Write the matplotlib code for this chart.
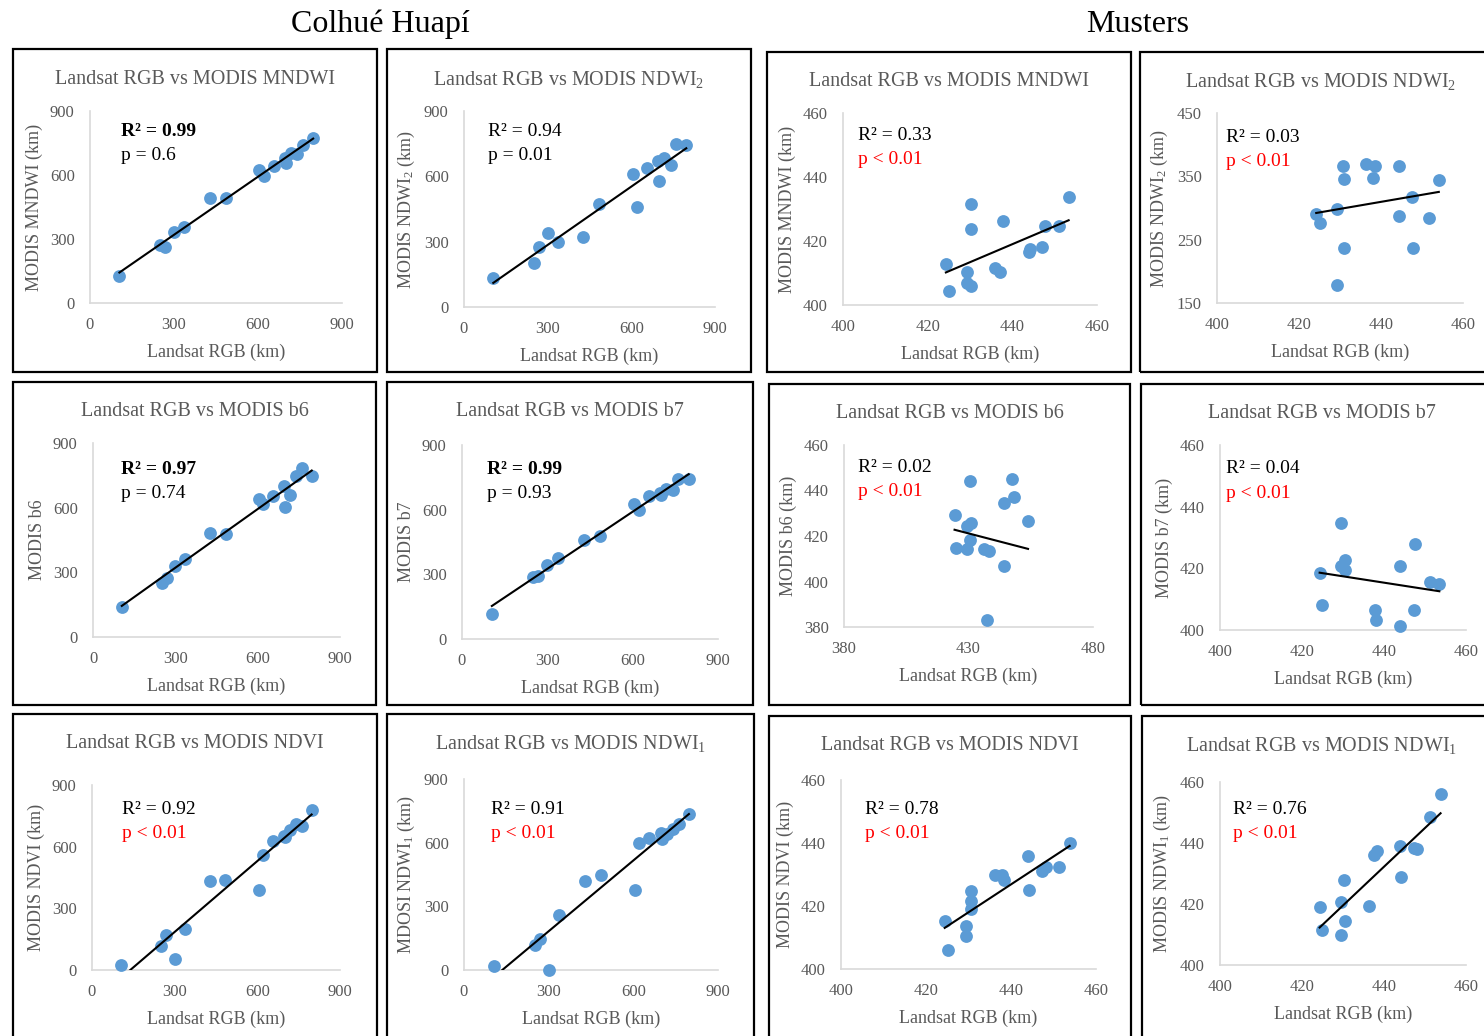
import numpy as np
import matplotlib.pyplot as plt
from matplotlib.patches import Rectangle

plt.rcParams['font.family'] = ['Liberation Serif', 'DejaVu Serif']
plt.rcParams['mathtext.default'] = 'regular'

W, H = 1484, 1036
GREY = '#595959'
BLUE = '#5B9BD5'

# ---- Colhué Huapí (same Landsat values for every panel) ----
colhue_rgb = [105, 250, 268, 300, 336, 428, 484, 605, 621, 656, 697, 700, 718, 741, 761, 797]
colhue_mndwi = [125, 271, 263, 333, 357, 490, 490, 623, 595, 642, 681, 657, 704, 700, 740, 772]
colhue_ndwi2 = [135, 204, 277, 338, 300, 323, 472, 609, 459, 640, 671, 579, 686, 652, 747, 743]
colhue_b6 = [140, 252, 275, 331, 362, 481, 476, 641, 618, 655, 701, 602, 660, 745, 784, 745]
colhue_b7 = [116, 287, 290, 341, 375, 460, 479, 627, 599, 664, 676, 668, 694, 689, 743, 740]
colhue_ndvi = [24, 116, 170, 53, 199, 432, 436, 388, 561, 630, 654, 645, 679, 711, 700, 780]
colhue_ndwi1 = [21, 118, 145, 0, 257, 420, 447, 379, 600, 621, 647, 616, 640, 663, 690, 734]

# ---- Musters ----
musters_mndwi_x = [424.3, 425.0, 429.2, 429.2, 430.2, 430.3, 430.3, 435.8, 437.2, 437.8, 443.9, 444.1, 447.0, 447.6, 451.0, 453.3]
musters_mndwi_y = [412.8, 404.5, 410.4, 406.8, 431.5, 423.8, 405.9, 411.5, 410.4, 426.4, 416.7, 417.4, 418.0, 424.7, 424.7, 433.9]
musters_ndwi2_x = [424.2, 425.2, 429.3, 429.3, 430.7, 430.9, 430.9, 436.4, 438.0, 438.6, 444.5, 444.5, 447.5, 447.9, 451.6, 454.1]
musters_ndwi2_y = [291, 276, 298, 178, 366, 346, 237, 370, 347, 366, 367, 288, 318, 237, 285, 345]
musters_b6_x = [424.4, 424.8, 429.4, 429.4, 430.7, 431.1, 430.7, 436.2, 438.1, 437.6, 444.1, 444.1, 447.5, 448.1, 453.9]
musters_b6_y = [429.3, 414.6, 414.3, 424.5, 444.0, 425.5, 418.3, 414.3, 413.3, 383.2, 434.6, 406.7, 445.2, 437.1, 426.4]
musters_b7_x = [424.3, 425.0, 429.4, 429.4, 430.6, 430.4, 437.7, 438.1, 444.0, 443.8, 447.3, 447.6, 451.3, 453.5]
musters_b7_y = [418.4, 408.2, 434.7, 420.6, 422.8, 419.5, 406.5, 403.3, 420.6, 401.4, 406.5, 427.8, 415.5, 414.8]
musters_ndvi_x = [424.4, 425.2, 429.3, 429.3, 430.7, 430.5, 430.7, 436.2, 437.8, 438.3, 444.0, 444.2, 447.3, 448.2, 451.3, 453.8]
musters_ndvi_y = [415.2, 406.1, 413.5, 410.4, 424.7, 421.5, 418.9, 429.9, 429.9, 428.4, 435.9, 425.0, 431.1, 432.4, 432.4, 440.1]
musters_ndwi1_x = [424.3, 425.0, 429.4, 429.4, 430.3, 430.6, 436.3, 437.6, 438.3, 444.0, 444.2, 447.3, 448.1, 451.1, 453.8]
musters_ndwi1_y = [419.1, 411.4, 420.6, 409.7, 427.8, 414.4, 419.4, 436.1, 437.4, 439.1, 428.9, 438.3, 438.0, 448.6, 456.1]

# trendline as printed in the source (slope, intercept) where it differs from a refit
musters_b6_trend = (-0.285, 543.7)

titles = ['Landsat RGB vs MODIS MNDWI', 'Landsat RGB vs MODIS NDWI$_2$',
          'Landsat RGB vs MODIS MNDWI', 'Landsat RGB vs MODIS NDWI$_2$',
          'Landsat RGB vs MODIS b6', 'Landsat RGB vs MODIS b7',
          'Landsat RGB vs MODIS b6', 'Landsat RGB vs MODIS b7',
          'Landsat RGB vs MODIS NDVI', 'Landsat RGB vs MODIS NDWI$_1$',
          'Landsat RGB vs MODIS NDVI', 'Landsat RGB vs MODIS NDWI$_1$']
ylabels = ['MODIS MNDWI (km)', 'MODIS NDWI$_2$ (km)', 'MODIS MNDWI (km)', 'MODIS NDWI$_2$ (km)',
           'MODIS b6', 'MODIS b7', 'MODIS b6 (km)', 'MODIS b7 (km)',
           'MODIS NDVI (km)', 'MDOSI NDWI$_1$ (km)', 'MODIS NDVI (km)', 'MODIS NDWI$_1$ (km)']
r2_labels = ['0.99', '0.94', '0.33', '0.03', '0.97', '0.99', '0.02', '0.04', '0.92', '0.91', '0.78', '0.76']
p_labels = ['p = 0.6', 'p = 0.01', 'p < 0.01', 'p < 0.01', 'p = 0.74', 'p = 0.93',
            'p < 0.01', 'p < 0.01', 'p < 0.01', 'p < 0.01', 'p < 0.01', 'p < 0.01']
bold_r2 = [True, False, False, False, True, True, False, False, False, False, False, False]

series = [(colhue_rgb, colhue_mndwi), (colhue_rgb, colhue_ndwi2),
          (musters_mndwi_x, musters_mndwi_y), (musters_ndwi2_x, musters_ndwi2_y),
          (colhue_rgb, colhue_b6), (colhue_rgb, colhue_b7),
          (musters_b6_x, musters_b6_y), (musters_b7_x, musters_b7_y),
          (colhue_rgb, colhue_ndvi), (colhue_rgb, colhue_ndwi1),
          (musters_ndvi_x, musters_ndvi_y), (musters_ndwi1_x, musters_ndwi1_y)]
trends = [None] * 12
trends[6] = musters_b6_trend

ch_ticks = [0, 300, 600, 900]
m_ticks = [400, 420, 440, 460]
xticks = [ch_ticks, ch_ticks, m_ticks, m_ticks, ch_ticks, ch_ticks, [380, 430, 480], m_ticks,
          ch_ticks, ch_ticks, m_ticks, m_ticks]
yticks = [ch_ticks, ch_ticks, m_ticks, [150, 250, 350, 450], ch_ticks, ch_ticks,
          [380, 400, 420, 440, 460], m_ticks, ch_ticks, ch_ticks, m_ticks, m_ticks]

# layout in pixels: panel frame, plot area, R2 text anchor
boxes = [(13, 49, 377, 372), (387, 49, 751, 372), (767, 52, 1131, 372), (1140, 52, 1502, 372),
         (13, 382, 376, 705), (387, 382, 753, 705), (769, 384, 1130, 705), (1141, 384, 1502, 705),
         (13, 714, 377, 1045), (387, 714, 754, 1045), (769, 716, 1131, 1045), (1142, 716, 1502, 1045)]
areas = [(90, 111, 342, 303), (464, 111, 715, 307), (843, 113, 1097, 305), (1217, 113, 1463, 303),
         (93, 443, 340, 637), (462, 445, 718, 639), (844, 445, 1093, 627), (1220, 445, 1466, 630),
         (92, 785, 340, 970), (464, 779, 718, 970), (841, 780, 1096, 969), (1220, 782, 1466, 965)]
r2_pos = [(121, 131), (488, 131), (858, 136), (1226, 137),
          (121, 470), (487, 470), (858, 468), (1226, 469),
          (122, 810), (491, 810), (865, 809), (1233, 809)]

fig = plt.figure(figsize=(W / 100, H / 100), dpi=100)


def fx(px):
    return px / W


def fy(py):
    return 1 - py / H


fig.text(fx(380), fy(24), 'Colhué Huapí', fontsize=23, ha='center', va='center')
fig.text(fx(1138), fy(24), 'Musters', fontsize=23, ha='center', va='center')

for i in range(12):
    x0, y0, x1, y1 = boxes[i]
    fig.add_artist(Rectangle((fx(x0), fy(y1)), (x1 - x0) / W, (y1 - y0) / H,
                             transform=fig.transFigure, fill=False, ec='black', lw=1.6))
    fig.text(fx((x0 + x1) / 2), fy(y0 + 30), titles[i], ha='center', va='center',
             color=GREY, fontsize=14.5)

    a0, b0, a1, b1 = areas[i]
    ax = fig.add_axes([fx(a0), fy(b1), (a1 - a0) / W, (b1 - b0) / H])
    xs, ys = series[i]
    ax.scatter(xs, ys, s=85, color=BLUE, zorder=3, clip_on=False, linewidths=0)
    if trends[i] is None:
        k, c = np.polyfit(xs, ys, 1)
    else:
        k, c = trends[i]
    line_x = np.array([min(xs), max(xs)])
    ax.plot(line_x, k * line_x + c, color='black', lw=1.5, zorder=4)

    ax.set_xlim(xticks[i][0], xticks[i][-1])
    ax.set_ylim(yticks[i][0], yticks[i][-1])
    ax.set_xticks(xticks[i])
    ax.set_yticks(yticks[i])
    for s in ['top', 'right']:
        ax.spines[s].set_visible(False)
    for s in ['left', 'bottom']:
        ax.spines[s].set_color('#D9D9D9')
        ax.spines[s].set_linewidth(1.2)
    ax.patch.set_alpha(0)
    ax.tick_params(length=0, labelsize=12, colors=GREY)
    ax.tick_params(axis='x', pad=10)
    ax.tick_params(axis='y', pad=11)
    ax.set_xlabel('Landsat RGB (km)', fontsize=13, color=GREY, labelpad=8)
    ax.set_ylabel(ylabels[i], fontsize=13, color=GREY, labelpad=5)

    tx, ty = r2_pos[i]
    fig.text(fx(tx), fy(ty), 'R² = ' + r2_labels[i], fontsize=14, va='center',
             fontweight='bold' if bold_r2[i] else 'normal')
    fig.text(fx(tx), fy(ty + 24), p_labels[i], fontsize=14, va='center',
             color='red' if '<' in p_labels[i] else 'black')

fig.savefig('out.png', dpi=100)
